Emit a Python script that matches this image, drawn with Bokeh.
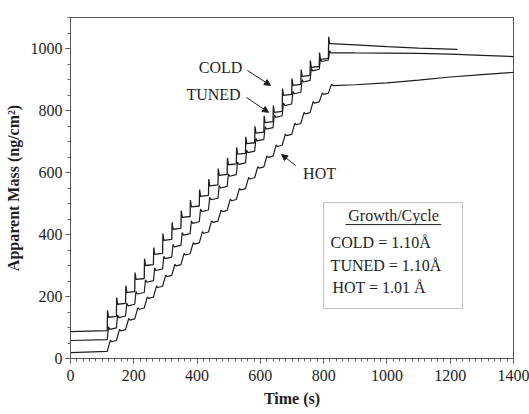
from bokeh.plotting import figure
from bokeh.models import Range1d, Label, Arrow, NormalHead, BoxAnnotation, SingleIntervalTicker
from bokeh.embed import file_html
from bokeh.resources import INLINE

# ---- data ----
pulse_t = [116, 145, 174, 203, 233, 262, 291, 320, 349, 378, 407, 436, 466,
           495, 524, 553, 582, 611, 640, 669, 699, 728, 757, 786, 815]

cold_start = 87
cold_peak = [155, 197, 235, 277, 322, 358, 403, 439, 477, 511, 545, 579, 613,
             647, 681, 715, 749, 783, 816, 871, 903, 932, 961, 987, 1038]
cold_plat = [133, 175, 213, 255, 300, 336, 381, 417, 455, 489, 523, 557, 591,
             625, 659, 693, 727, 761, 794, 849, 881, 910, 939, 965, 1016]
cold_post_t = [822, 900, 1000, 1100, 1223]
cold_post_v = [1016, 1012, 1006, 1001, 997]

tuned_start = 58
tuned_plat = [96, 134, 172, 210, 248, 286, 324, 362, 400, 438, 476, 514, 552,
              590, 628, 666, 704, 742, 780, 818, 856, 894, 930, 960, 987]
tuned_post_t = [822, 900, 1000, 1100, 1200, 1300, 1400]
tuned_post_v = [987, 986, 985, 984, 982, 978, 974]

hot_start = 19
hot_plat = [54, 89, 124, 159, 194, 229, 264, 299, 334, 369, 404, 439, 474,
            509, 544, 579, 614, 649, 684, 719, 754, 789, 824, 852, 880]
hot_post_t = [830, 900, 1000, 1100, 1200, 1300, 1400]
hot_post_v = [880, 883, 889, 898, 908, 916, 923]

legend_lines = ["COLD = 1.10Å", "TUNED = 1.10Å", "HOT = 1.01 Å"]

FONT = "Liberation Serif"
INK = "#1e1e1e"

p = figure(width=529, height=414, output_backend="svg", toolbar_location=None,
           x_range=Range1d(0, 1400), y_range=Range1d(0, 1100),
           frame_width=443, frame_height=341,
           min_border_left=70, min_border_right=16, min_border_top=17, min_border_bottom=56)
p.grid.visible = False
p.outline_line_color = "#555555"
p.outline_line_width = 1
p.background_fill_color = "white"
p.border_fill_color = "white"

p.xaxis.ticker = SingleIntervalTicker(interval=200, num_minor_ticks=10)
p.yaxis.ticker = SingleIntervalTicker(interval=200, num_minor_ticks=4)
for ax in (p.xaxis[0], p.yaxis[0]):
    ax.major_tick_in = 0
    ax.major_tick_out = 5
    ax.minor_tick_in = 0
    ax.minor_tick_out = 3
    ax.axis_line_color = "#555555"
    ax.major_tick_line_color = "#444444"
    ax.minor_tick_line_color = "#666666"
    ax.major_label_text_font = FONT
    ax.major_label_text_font_size = "16px"
    ax.major_label_text_color = INK
    ax.axis_label_text_font = FONT
    ax.axis_label_text_font_size = "16px"
    ax.axis_label_text_font_style = "bold"
    ax.axis_label_text_color = INK
p.xaxis.axis_label = "Time (s)"
p.yaxis.axis_label = "Apparent Mass (ng/cm²)"
p.xaxis.major_label_standoff = 6
p.xaxis.axis_label_standoff = 6
p.yaxis.major_label_standoff = 3
p.yaxis.axis_label_standoff = 6


def staircase(start, plats, shape, peaks=None, post_t=None, post_v=None):
    xs, ys = [0], [start]
    prev = start
    for i, t in enumerate(pulse_t):
        if shape == "cold":
            xs.append(t); ys.append(prev + 3)
            xs += [t + 1, t + 4]; ys += [peaks[i], plats[i]]
        elif shape == "tuned":
            xs.append(t); ys.append(prev + 3)
            xs += [t + 4, t + 8]; ys += [plats[i] + 6, plats[i] - 2]
        else:
            xs.append(t); ys.append(prev + 4)
            xs += [t + 10, t + 14]; ys += [plats[i] + 5, plats[i]]
        prev = plats[i]
    xs += post_t; ys += post_v
    return xs, ys


cx, cy = staircase(cold_start, cold_plat, "cold", cold_peak, cold_post_t, cold_post_v)
tx, ty = staircase(tuned_start, tuned_plat, "tuned", None, tuned_post_t, tuned_post_v)
hx, hy = staircase(hot_start, hot_plat, "hot", None, hot_post_t, hot_post_v)

p.line(cx, cy, line_color=INK, line_width=1.3)
p.line(tx, ty, line_color=INK, line_width=1.2)
p.line(hx, hy, line_color=INK, line_width=1.2)

# annotations
for txt, x, y in [("COLD", 474, 939), ("TUNED", 452, 852), ("HOT", 787, 597)]:
    p.add_layout(Label(x=x, y=y, text=txt, text_font=FONT, text_font_size="16px",
                       text_color=INK, text_align="center", text_baseline="middle"))
for (x0, y0, x1, y1) in [(559, 929, 632, 881), (556, 842, 626, 794), (712, 622, 667, 658)]:
    p.add_layout(Arrow(x_start=x0, y_start=y0, x_end=x1, y_end=y1, line_color=INK, line_width=1,
                       end=NormalHead(size=6, fill_color=INK, line_color=INK)))

p.add_layout(BoxAnnotation(left=800, right=1239, bottom=161, top=503,
                           fill_color="white", fill_alpha=1, line_color="#333333", line_width=1))
p.add_layout(Label(x=1021, y=461, text="Growth/Cycle", text_font=FONT, text_font_size="16px",
                   text_color=INK, text_align="center", text_baseline="middle"))
ul = p.line([869, 1172], [432, 432], line_color=INK, line_width=1)
ul.level = "overlay"
for txt, x, y in zip(legend_lines, [822, 822, 828], [374, 300, 229]):
    p.add_layout(Label(x=x, y=y, text=txt, text_font=FONT, text_font_size="16px",
                       text_color=INK, text_align="left", text_baseline="middle"))

open("out.html", "w").write(file_html(p, INLINE))
